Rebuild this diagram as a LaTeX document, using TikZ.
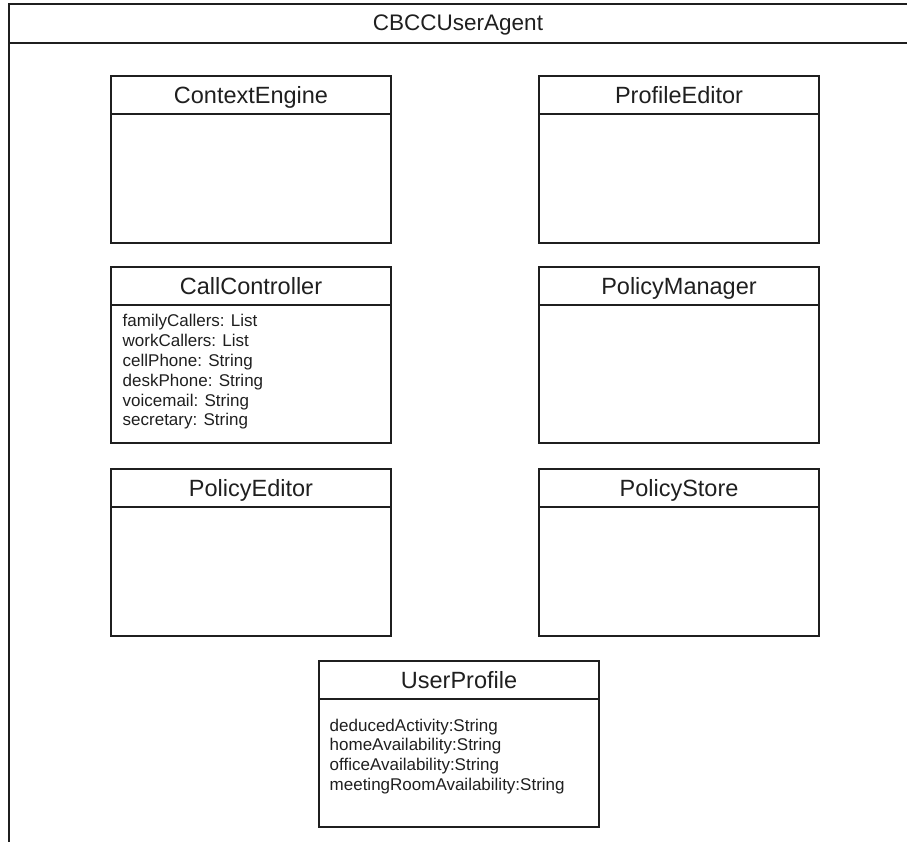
\documentclass[tikz,border=0pt]{standalone}
\usepackage{fontspec}
\setmainfont{Liberation Sans}
% one UML class: name, x, y (top left), height, title
\newcommand\umlclass[5]{%
  \node[classbox, minimum height=#4pt] (#1) at (#2,#3) {};
  \node[classname] (#1-title) at ([yshift=-27.5pt]#1.north) {#5};
  \draw[rule] ([yshift=-38pt]#1.north west) -- ([yshift=-38pt]#1.north east);
}
\begin{document}
\begin{tikzpicture}[x=1pt,y=-1pt,
  frame/.style={draw=black!88, line width=1.4pt},
  classbox/.style={draw=black!88, line width=1.4pt, minimum width=280pt,
    anchor=north west, inner sep=0pt, outer sep=0pt},
  classname/.style={font=\fontsize{23.5}{23.5}\selectfont, anchor=base,
    inner sep=0pt, text=black!88},
  attr/.style={font=\fontsize{17}{17}\selectfont, anchor=base west,
    inner sep=0pt, text=black!88},
  rule/.style={draw=black!88, line width=1.2pt}]
\useasboundingbox (0,0) rectangle (907,841);
\clip (0,0) rectangle (907,841);

% enclosing component frame
\coordinate (agent-bl) at (9,870);
\coordinate (agent-tl) at (9,4);
\coordinate (agent-tr) at (940,4);
\coordinate (agent-hl) at (9,43);
\coordinate (agent-hr) at (940,43);
\draw[frame] (agent-bl) -- (agent-tl) -- (agent-tr);
\draw[rule] (agent-hl) -- (agent-hr);
\node[classname, font=\fontsize{22.5}{22.5}\selectfont] (agent-title) at (458,30) {CBCCUserAgent};

% classes
\umlclass{ce}{111}{76}{167}{ContextEngine}
\umlclass{pe}{539}{76}{167}{ProfileEditor}
\umlclass{cc}{111}{267}{176}{CallController}
\umlclass{pm}{539}{267}{176}{PolicyManager}
\umlclass{ped}{111}{469}{167}{PolicyEditor}
\umlclass{ps}{539}{469}{167}{PolicyStore}
\umlclass{up}{319}{661}{166}{UserProfile}

% CallController attributes
\foreach \t [count=\i] in {familyCallers: List, workCallers: List,
    cellPhone: String, deskPhone: String, voicemail: String, secretary: String}
  \node[attr] (cc-a\i) at ([xshift=11.5pt,yshift={-40pt-19.8pt*\i}]cc.north west) {\t};

% UserProfile attributes
\foreach \t [count=\i] in {deducedActivity:String, homeAvailability:String,
    officeAvailability:String, meetingRoomAvailability:String}
  \node[attr] (up-a\i) at ([xshift=10.5pt,yshift={-50.3pt-19.7pt*\i}]up.north west) {\t};
\end{tikzpicture}
\end{document}
